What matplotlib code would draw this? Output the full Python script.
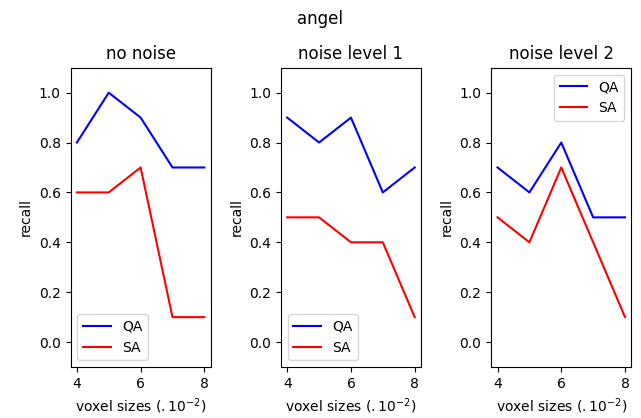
import matplotlib
matplotlib.use("Agg")
import matplotlib.pyplot as plt

# Data
voxel_sizes = [4, 5, 6, 7, 8]
titles = ["no noise", "noise level 1", "noise level 2"]
qa_recall = [
    [0.8, 1.0, 0.9, 0.7, 0.7],
    [0.9, 0.8, 0.9, 0.6, 0.7],
    [0.7, 0.6, 0.8, 0.5, 0.5],
]
sa_recall = [
    [0.6, 0.6, 0.7, 0.1, 0.1],
    [0.5, 0.5, 0.4, 0.4, 0.1],
    [0.5, 0.4, 0.7, 0.4, 0.1],
]
legend_locs = ["lower left", "lower left", "upper right"]


def main():
    fig, axes = plt.subplots(1, 3, figsize=(6.41, 4.18), dpi=100)
    fig.suptitle("angel", y=0.975)

    for ax, title, qa, sa, loc in zip(axes, titles, qa_recall, sa_recall, legend_locs):
        ax.plot(voxel_sizes, qa, color="blue", label="QA")
        ax.plot(voxel_sizes, sa, color="red", label="SA")
        ax.set_ylim(-0.1, 1.1)
        ax.set_xticks([4, 6, 8])
        ax.set_yticks([0.0, 0.2, 0.4, 0.6, 0.8, 1.0])
        ax.set_title(title)
        ax.set_ylabel("recall")
        ax.set_xlabel(r"voxel sizes ($.10^{-2}$)")
        ax.legend(loc=loc)

    fig.subplots_adjust(left=0.11, right=0.985, top=0.838, bottom=0.122, wspace=0.5)
    fig.savefig("out.png", dpi=100)


if __name__ == "__main__":
    main()
